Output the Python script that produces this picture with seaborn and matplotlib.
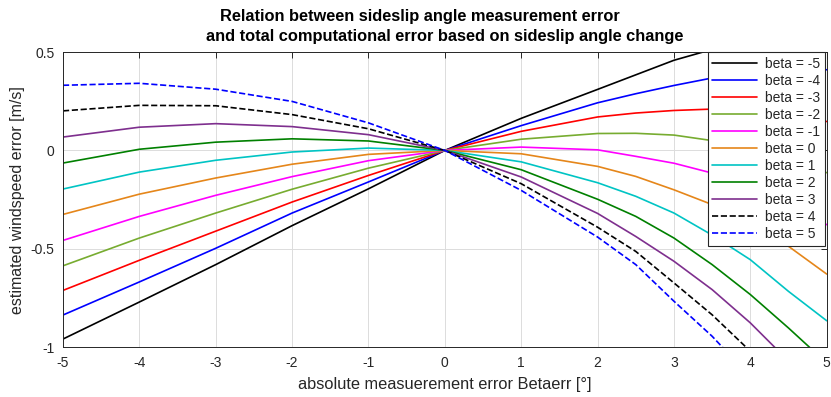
import numpy as np
import pandas as pd
import matplotlib
matplotlib.use('Agg')
import matplotlib.pyplot as plt
import seaborn as sns

# ==================== DATA ====================
# absolute measurement error Betaerr [deg]
err_deg = [-5, -4, -3, -2, -1, 0, 1, 2, 2.5, 3, 3.5, 4, 4.5, 5]

beta_m5 = [-0.958, -0.770, -0.580, -0.382, -0.195, 0, 0.163, 0.310, 0.384, 0.458, 0.513, 0.565, 0.615, 0.660]
beta_m4 = [-0.836, -0.668, -0.497, -0.318, -0.160, 0, 0.126, 0.242, 0.288, 0.330, 0.368, 0.385, 0.402, 0.410]
beta_m3 = [-0.711, -0.558, -0.410, -0.262, -0.127, 0, 0.097, 0.170, 0.190, 0.203, 0.210, 0.198, 0.178, 0.147]
beta_m2 = [-0.586, -0.445, -0.318, -0.197, -0.090, 0, 0.057, 0.086, 0.087, 0.078, 0.050, 0.012, -0.042, -0.113]
beta_m1 = [-0.457, -0.335, -0.228, -0.133, -0.052, 0, 0.017, 0.003, -0.030, -0.065, -0.115, -0.180, -0.270, -0.377]
beta_0 = [-0.325, -0.222, -0.140, -0.070, -0.020, 0, -0.017, -0.081, -0.132, -0.200, -0.275, -0.370, -0.487, -0.628]
beta_1 = [-0.196, -0.110, -0.050, -0.008, 0.012, 0, -0.058, -0.164, -0.233, -0.318, -0.430, -0.555, -0.716, -0.865]
beta_2 = [-0.064, 0.006, 0.042, 0.059, 0.048, 0, -0.098, -0.248, -0.335, -0.445, -0.580, -0.732, -0.902, -1.080]
beta_3 = [0.068, 0.118, 0.136, 0.121, 0.080, 0, -0.135, -0.320, -0.437, -0.563, -0.707, -0.876, -1.070, -1.270]
beta_4 = [0.201, 0.229, 0.227, 0.182, 0.110, 0, -0.169, -0.390, -0.513, -0.673, -0.835, -1.020, -1.220, -1.430]
beta_5 = [0.331, 0.341, 0.311, 0.249, 0.140, 0, -0.203, -0.440, -0.580, -0.766, -0.944, -1.150, -1.360, -1.580]

beta_values = [-5, -4, -3, -2, -1, 0, 1, 2, 3, 4, 5]
series = [beta_m5, beta_m4, beta_m3, beta_m2, beta_m1, beta_0,
          beta_1, beta_2, beta_3, beta_4, beta_5]
line_colors = ['#000000', '#0000FF', '#FF0000', '#77AC30', '#FF00FF', '#E5861A',
               '#00C4C4', '#008000', '#7E2F8E', '#000000', '#0000FF']
line_styles = ['-'] * 9 + ['--', '--']

x_ticks = [-5, -4, -3, -2, -1, 0, 1, 2, 3, 4, 5]
y_ticks = [-1, -0.5, 0, 0.5]

# ==================== STYLE ====================
sns.set_style('white')
plt.rcParams['font.family'] = ['Liberation Sans', 'DejaVu Sans']
plt.rcParams['axes.unicode_minus'] = False

fig = plt.figure(figsize=(8.31, 3.97), dpi=100)
ax = fig.add_axes([63 / 831, 1 - 347.3 / 397, (826.7 - 63) / 831, (347.3 - 52) / 397])

# ==================== PLOT ====================
for beta, vals, col, ls in zip(beta_values, series, line_colors, line_styles):
    df = pd.DataFrame({'err': err_deg, 'dv': vals})
    sns.lineplot(data=df, x='err', y='dv', ax=ax, color=col, linestyle=ls,
                 linewidth=1.2, label=f'beta = {beta}', sort=False)

ax.set_xlim(-5, 5)
ax.set_ylim(-1, 0.5)
ax.set_xticks(x_ticks)
ax.set_xticklabels([str(t) for t in x_ticks])
ax.set_yticks(y_ticks)
ax.set_yticklabels(['-1', '-0.5', '0', '0.5'])
ax.grid(True, color='#DCDCDC', linewidth=0.7)
ax.set_axisbelow(True)
for sp in ax.spines.values():
    sp.set_color('#262626')
    sp.set_linewidth(0.7)
ax.tick_params(direction='in', length=4, width=0.7, top=True, right=True,
               colors='#262626', labelsize=10, pad=6)

ax.set_xlabel('absolute measuerement error Betaerr [°]', fontsize=11.8, color='#262626', labelpad=5)
ax.set_ylabel('estimated windspeed error [m/s]', fontsize=11.5, color='#262626', labelpad=4)

# two-line title, second line centred on the axes, first one slightly to the left
fig.text(420 / 831, 1 - 17 / 397, 'Relation between sideslip angle measurement error',
         ha='center', va='center', fontsize=11.8, fontweight='bold', color='black')
fig.text(445 / 831, 1 - 37 / 397, 'and total computational error based on sideslip angle change',
         ha='center', va='center', fontsize=11.8, fontweight='bold', color='black')

leg = ax.legend(loc='upper right', bbox_to_anchor=(1.0, 1.005), fontsize=10,
                frameon=True, fancybox=False, framealpha=1, edgecolor='#262626',
                handlelength=3.2, labelspacing=0.22, borderpad=0.35,
                handletextpad=0.6, borderaxespad=0.1)
leg.get_frame().set_linewidth(0.8)

fig.savefig('out.png', dpi=100)
plt.close(fig)
